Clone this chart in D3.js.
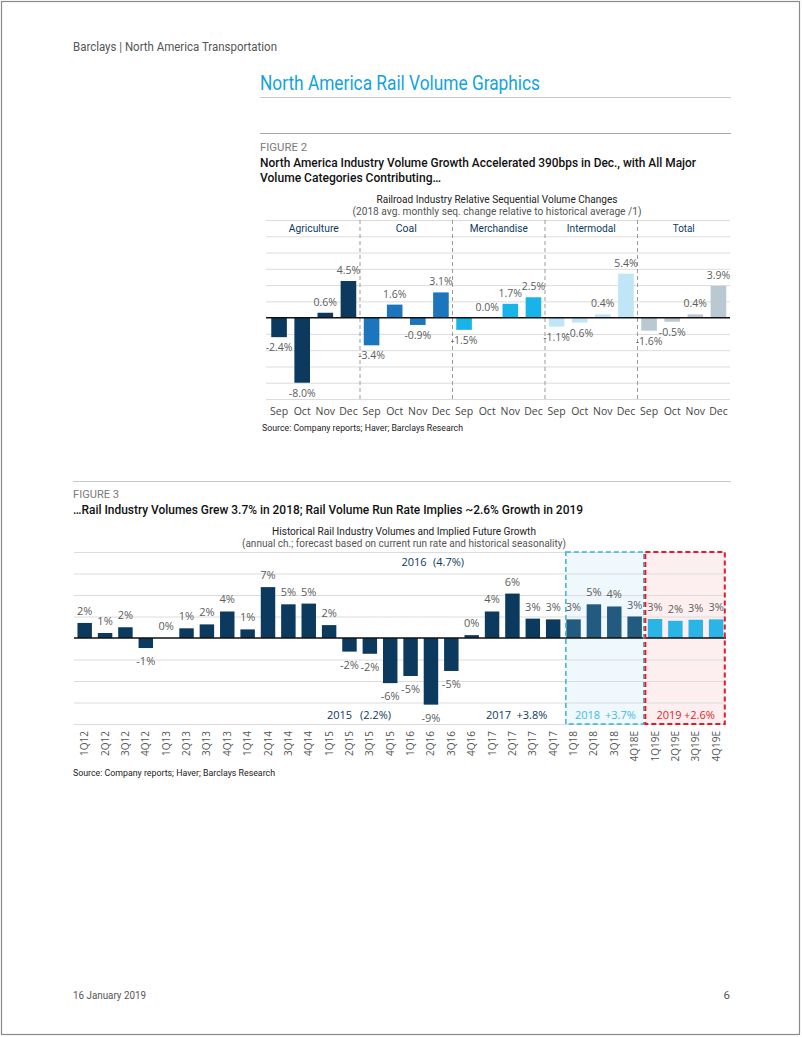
<!DOCTYPE html>
<html><head><meta charset="utf-8">
<script src="https://cdn.jsdelivr.net/npm/d3@7"></script>
<style>body{margin:0;background:#fff}svg{display:block}</style>
</head><body>
<script>
// ---------- DATA ----------
const f2Groups = ["Agriculture","Coal","Merchandise","Intermodal","Total"];
const f2Months = ["Sep","Oct","Nov","Dec"];
const f2Agriculture = [-2.4,-8.0,0.6,4.5];
const f2Coal = [-3.4,1.6,-0.9,3.1];
const f2Merchandise = [-1.5,0.0,1.7,2.5];
const f2Intermodal = [-1.1,-0.6,0.4,5.4];
const f2Total = [-1.6,-0.5,0.4,3.9];
const f2TickValues = [-10,-8,-6,-4,-2,0,2,4,6,8,10,12];

const f3Quarters = ["1Q12","2Q12","3Q12","4Q12","1Q13","2Q13","3Q13","4Q13","1Q14","2Q14","3Q14","4Q14",
  "1Q15","2Q15","3Q15","4Q15","1Q16","2Q16","3Q16","4Q16","1Q17","2Q17","3Q17","4Q17",
  "1Q18","2Q18","3Q18","4Q18E","1Q19E","2Q19E","3Q19E","4Q19E"];
const f3Values = [2.1,0.7,1.5,-1.4,0.0,1.35,1.9,3.7,1.2,7.1,4.7,4.8,
  1.8,-1.9,-2.2,-6.3,-5.3,-9.3,-4.6,0.4,3.7,6.2,2.7,2.6,
  2.6,4.7,4.4,3.0,2.65,2.4,2.55,2.6];
const f3Period = ["h","h","h","h","h","h","h","h","h","h","h","h",
  "h","h","h","h","h","h","h","h","h","h","h","h",
  "a","a","a","a","f","f","f","f"];
const f3TickValues = [-12,-9,-6,-3,0,3,6,9,12];

// ---------- SETUP ----------
const svg = d3.select("body").append("svg").attr("width",802).attr("height",1037);
const TF = "Roboto, 'Open Sans', sans-serif";
const NF = "'Open Sans', sans-serif";
function txt(x,y,s,o){
  const t = svg.append("text").attr("x",x).attr("y",y).text(s)
    .attr("font-family",o.ff||TF).attr("font-size",o.fs||11).attr("fill",o.fill||"#333")
    .attr("font-weight",o.fw||400).attr("text-anchor",o.anchor||"start");
  if(o.w){ t.attr("textLength",o.w).attr("lengthAdjust","spacingAndGlyphs"); }
  return t;
}
const pct1 = v => (v<0?"-":"") + Math.abs(v).toFixed(1) + "%";
const pct0 = v => { const r = Math.round(v); return (r<0?"-":"") + Math.abs(r) + "%"; };

// page frame
svg.append("rect").attr("x",1.5).attr("y",1.5).attr("width",798).attr("height",1033)
  .attr("fill","none").attr("stroke","#8a8a8a").attr("stroke-width",1.2);

txt(73,51,"Barclays | North America Transportation",{fs:12.5,fill:"#555",w:204});
txt(260,90,"North America Rail Volume Graphics",{fs:20,fill:"#12a3dd",w:280});
svg.append("line").attr("x1",260).attr("x2",731).attr("y1",97.5).attr("y2",97.5).attr("stroke","#c8c8c8").attr("stroke-width",1.2);
svg.append("line").attr("x1",260).attr("x2",731).attr("y1",133.5).attr("y2",133.5).attr("stroke","#a8a8a8").attr("stroke-width",1.2);
txt(260,150.5,"FIGURE 2",{fs:11.5,fill:"#7a7a7a",w:47});
txt(260,167,"North America Industry Volume Growth Accelerated 390bps in Dec., with All Major",{fs:12.5,fw:500,fill:"#111",w:436});
txt(260,182,"Volume Categories Contributing…",{fs:12.5,fw:500,fill:"#111",w:181});

// ---------- FIGURE 2 ----------
const f2Series = [f2Agriculture,f2Coal,f2Merchandise,f2Intermodal,f2Total];
const f2Colors = ["#0b3a5e","#1b76bd","#18b3e9","#bfe5f7","#bac8d2"];
const f2Data = [];
f2Groups.forEach((g,gi)=>f2Months.forEach((m,mi)=>f2Data.push({key:g+"-"+m,g,gi,m,v:f2Series[gi][mi]})));

const x2 = d3.scaleBand().domain(f2Data.map(d=>d.key)).range([267.5,730]).paddingInner(0.325).paddingOuter(0.1625);
const y2 = d3.scaleLinear().domain([-10,12]).range([399,220]);

txt(497,203,"Railroad Industry Relative Sequential Volume Changes",{fs:11,fill:"#222",anchor:"middle",w:241});
txt(497,214.5,"(2018 avg. monthly seq. change relative to historical average /1)",{fs:11,fill:"#555",anchor:"middle",w:289});

const g2 = svg.append("g");
g2.selectAll("line.grid").data(f2TickValues.filter(t=>t!==0)).join("line")
  .attr("x1",266).attr("x2",730).attr("y1",d=>y2(d)+0.5).attr("y2",d=>y2(d)+0.5)
  .attr("stroke","#dcdcdc").attr("stroke-width",1);
const grpW = (730-267.5)/f2Groups.length;
const grpStart = g => x2(g+"-Sep")-x2.step()*x2.paddingOuter();
g2.selectAll("line.sep").data(f2Groups.slice(1)).join("line")
  .attr("x1",d=>grpStart(d)).attr("x2",d=>grpStart(d))
  .attr("y1",220).attr("y2",399).attr("stroke","#9a9a9a").attr("stroke-dasharray","4,3").attr("stroke-width",1);
g2.selectAll("text.hdr").data(f2Groups).join("text")
  .attr("x",d=>grpStart(d)+grpW/2).attr("y",232).attr("text-anchor","middle")
  .attr("font-family",TF).attr("font-size",11.5).attr("fill","#0b3a5e")
  .attr("textLength",(d,i)=>[50,21,58,49,22][i]).attr("lengthAdjust","spacingAndGlyphs").text(d=>d);
g2.selectAll("rect.bar").data(f2Data).join("rect")
  .attr("x",d=>x2(d.key)).attr("width",x2.bandwidth())
  .attr("y",d=>y2(Math.max(0,d.v))).attr("height",d=>Math.abs(y2(d.v)-y2(0)))
  .attr("fill",d=>f2Colors[d.gi]);
g2.append("line").attr("x1",266).attr("x2",730).attr("y1",y2(0)).attr("y2",y2(0)).attr("stroke","#111").attr("stroke-width",1.5);
g2.selectAll("text.val").data(f2Data).join("text")
  .attr("x",d=>x2(d.key)+x2.bandwidth()/2).attr("y",d=>d.v>=0?y2(d.v)-7:y2(d.v)+14)
  .attr("text-anchor","middle").attr("font-family",NF).attr("font-size",10.5).attr("fill","#5c5c5c")
  .text(d=>pct1(d.v));
g2.selectAll("text.mon").data(f2Data).join("text")
  .attr("x",d=>x2(d.key)+x2.bandwidth()/2).attr("y",415).attr("text-anchor","middle")
  .attr("font-family",NF).attr("font-size",10.5).attr("fill","#444").text(d=>d.m);

txt(262,431,"Source: Company reports; Haver; Barclays Research",{fs:9.5,fill:"#222",w:201});

// ---------- FIGURE 3 ----------
svg.append("line").attr("x1",73).attr("x2",731).attr("y1",481.5).attr("y2",481.5).attr("stroke","#c8c8c8").attr("stroke-width",1.2);
txt(73,498,"FIGURE 3",{fs:11.5,fill:"#7a7a7a",w:46});
txt(73,514,"…Rail Industry Volumes Grew 3.7% in 2018; Rail Volume Run Rate Implies ~2.6% Growth in 2019",{fs:12.5,fw:500,fill:"#111",w:510});
txt(404,535,"Historical Rail Industry Volumes and Implied Future Growth",{fs:11,fill:"#222",anchor:"middle",w:264});
txt(404,546.5,"(annual ch.; forecast based on current run rate and historical seasonality)",{fs:11,fill:"#555",anchor:"middle",w:324});

const f3Data = f3Quarters.map((q,i)=>({q,v:f3Values[i],p:f3Period[i]}));
const x3 = d3.scaleBand().domain(f3Quarters).range([74.5,726.3]).paddingInner(0.29).paddingOuter(0.145);
const y3 = d3.scaleLinear().domain([-12,12]).range([724,552]);
const st = x3.step(), po = st*x3.paddingOuter();
const bStart = q=>x3(q)-po, bEnd = q=>x3(q)-po+st;

const g3 = svg.append("g");
const boxA = {x0:bStart("1Q18")+2.5, x1:bEnd("4Q18E")-1};
const boxF = {x0:bEnd("4Q18E")+0.5, x1:bEnd("4Q19E")-1.5};
g3.append("rect").attr("x",boxA.x0).attr("y",y3(12)).attr("width",boxA.x1-boxA.x0).attr("height",y3(-12)-y3(12)).attr("fill","#eef8fd");
g3.append("rect").attr("x",boxF.x0).attr("y",y3(12)).attr("width",boxF.x1-boxF.x0).attr("height",y3(-12)-y3(12)).attr("fill","#fdefef");
g3.selectAll("line.grid").data(f3TickValues.filter(t=>t!==0)).join("line")
  .attr("x1",74).attr("x2",726).attr("y1",d=>y3(d)+0.5).attr("y2",d=>y3(d)+0.5)
  .attr("stroke","#dcdcdc").attr("stroke-width",1);
const f3Colors = {h:"#0b3a5e",a:"#235a80",f:"#2bb5e7"};
g3.selectAll("rect.bar").data(f3Data).join("rect")
  .attr("x",d=>x3(d.q)).attr("width",x3.bandwidth())
  .attr("y",d=>y3(Math.max(0,d.v))).attr("height",d=>Math.abs(y3(d.v)-y3(0)))
  .attr("fill",d=>f3Colors[d.p]);
g3.append("line").attr("x1",74).attr("x2",726).attr("y1",y3(0)).attr("y2",y3(0)).attr("stroke","#111").attr("stroke-width",1.5);
g3.append("rect").attr("x",boxA.x0).attr("y",y3(12)).attr("width",boxA.x1-boxA.x0).attr("height",y3(-12)-y3(12))
  .attr("fill","none").attr("stroke","#35b3db").attr("stroke-width",1.5).attr("stroke-dasharray","5,3");
g3.append("rect").attr("x",boxF.x0).attr("y",y3(12)).attr("width",boxF.x1-boxF.x0).attr("height",y3(-12)-y3(12))
  .attr("fill","none").attr("stroke","#e21b2d").attr("stroke-width",2).attr("stroke-dasharray","5,3");
g3.selectAll("text.val").data(f3Data).join("text")
  .attr("x",d=>x3(d.q)+x3.bandwidth()/2).attr("y",d=>d.v>=0?y3(d.v)-8:y3(d.v)+17)
  .attr("text-anchor","middle").attr("font-family",NF).attr("font-size",11).attr("fill","#5c5c5c")
  .text(d=>pct0(d.v));
g3.selectAll("text.tick").data(f3Quarters).join("text")
  .attr("transform",d=>`translate(${x3(d)+x3.bandwidth()/2+3.5},731) rotate(-90)`)
  .attr("text-anchor","end").attr("font-family",NF).attr("font-size",10).attr("fill","#555").text(d=>d);

// annotations
const navy = "#0b3a5e";
txt(401.5,566,"2016",{ff:NF,fs:11,fill:navy});
txt(433,566,"(4.7%)",{ff:NF,fs:11,fill:navy});
txt(327,719,"2015",{ff:NF,fs:11,fill:navy});
txt(360,719,"(2.2%)",{ff:NF,fs:11,fill:navy});
txt(486,719,"2017",{ff:NF,fs:11,fill:navy});
txt(516.5,719,"+3.8%",{ff:NF,fs:11,fill:navy});
txt(575,719,"2018",{ff:NF,fs:11,fill:"#45b9e2"});
txt(605,719,"+3.7%",{ff:NF,fs:11,fill:"#45b9e2"});
txt(656.5,719,"2019",{ff:NF,fs:11,fill:"#e21b2d"});
txt(684,719,"+2.6%",{ff:NF,fs:11,fill:"#e21b2d"});

txt(73,776,"Source: Company reports; Haver; Barclays Research",{fs:9.5,fill:"#222",w:202});

// footer
txt(73,999,"16 January 2019",{fs:11.5,fill:"#555",w:73});
txt(730,999,"6",{fs:11.5,fill:"#555",anchor:"end"});
</script>
</body></html>
